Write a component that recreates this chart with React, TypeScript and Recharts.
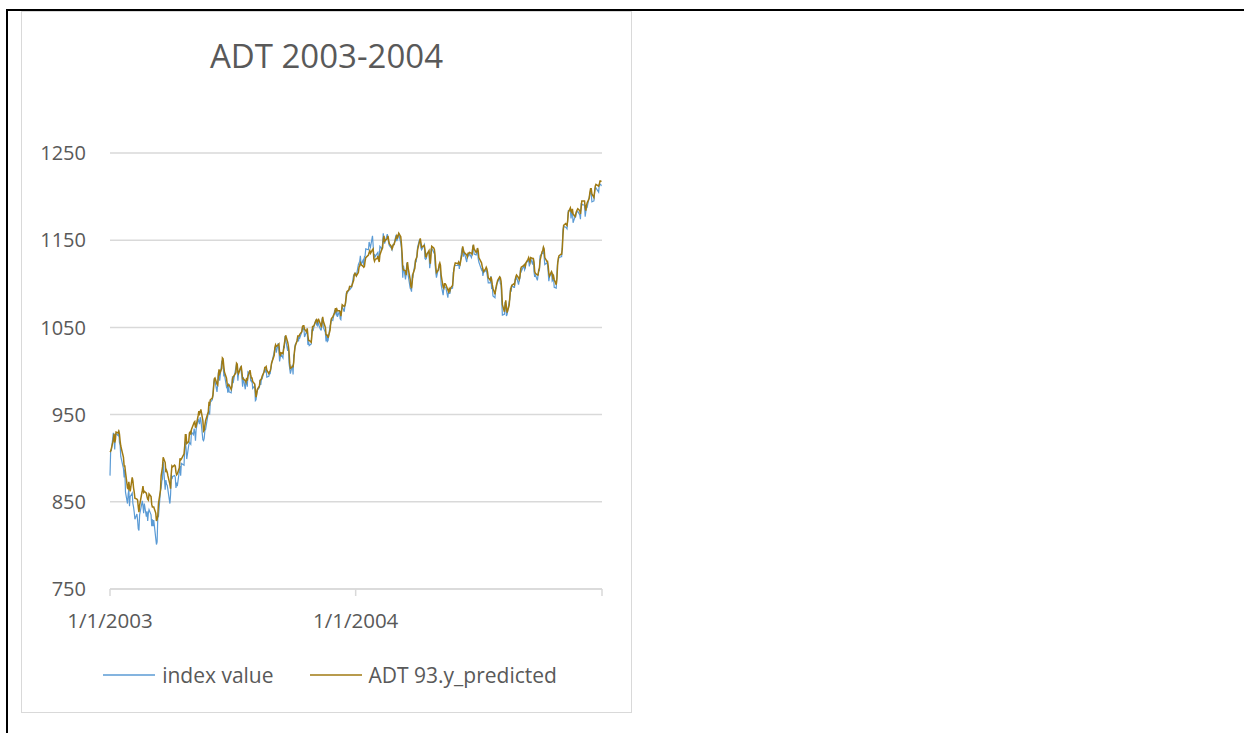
import React from 'react';
import { LineChart, Line, XAxis, YAxis, CartesianGrid, Legend } from 'recharts';

// trading days per month (Jan..Dec)
const tradingDays2003 = [
  [1, 2, 3, 6, 7, 8, 9, 10, 13, 14, 15, 16, 17, 21, 22, 23, 24, 27, 28, 29, 30, 31],
  [3, 4, 5, 6, 7, 10, 11, 12, 13, 14, 18, 19, 20, 21, 24, 25, 26, 27, 28],
  [3, 4, 5, 6, 7, 10, 11, 12, 13, 14, 17, 18, 19, 20, 21, 24, 25, 26, 27, 28, 31],
  [1, 2, 3, 4, 7, 8, 9, 10, 11, 14, 15, 16, 17, 21, 22, 23, 24, 25, 28, 29, 30],
  [1, 2, 5, 6, 7, 8, 9, 12, 13, 14, 15, 16, 19, 20, 21, 22, 23, 27, 28, 29, 30],
  [2, 3, 4, 5, 6, 9, 10, 11, 12, 13, 16, 17, 18, 19, 20, 23, 24, 25, 26, 27, 30],
  [1, 2, 3, 7, 8, 9, 10, 11, 14, 15, 16, 17, 18, 21, 22, 23, 24, 25, 28, 29, 30, 31],
  [1, 4, 5, 6, 7, 8, 11, 12, 13, 14, 15, 18, 19, 20, 21, 22, 25, 26, 27, 28, 29],
  [2, 3, 4, 5, 8, 9, 10, 11, 12, 15, 16, 17, 18, 19, 22, 23, 24, 25, 26, 29, 30],
  [1, 2, 3, 6, 7, 8, 9, 10, 13, 14, 15, 16, 17, 20, 21, 22, 23, 24, 27, 28, 29, 30, 31],
  [3, 4, 5, 6, 7, 10, 11, 12, 13, 14, 17, 18, 19, 20, 21, 24, 25, 26, 28],
  [1, 2, 3, 4, 5, 8, 9, 10, 11, 12, 15, 16, 17, 18, 19, 22, 23, 24, 26, 29, 30, 31],
];

const indexValue2003 = [
  [880, 909, 909, 929, 923, 910, 928, 928, 926, 932, 918, 915, 902, 888, 878, 887, 861, 848, 859, 864, 845, 856],
  [860, 848, 844, 838, 830, 836, 829, 819, 817, 835, 851, 845, 837, 848, 833, 839, 828, 837, 841],
  [835, 822, 830, 822, 829, 808, 801, 804, 832, 833, 863, 866, 874, 876, 896, 864, 875, 870, 869, 864, 848],
  [858, 881, 876, 879, 880, 878, 866, 872, 868, 885, 891, 880, 894, 892, 911, 919, 911, 899, 915, 918, 917],
  [916, 930, 927, 934, 930, 920, 933, 945, 942, 939, 947, 944, 921, 920, 923, 932, 933, 952, 953, 950, 964],
  [967, 972, 986, 990, 988, 976, 985, 998, 999, 989, 1011, 1012, 1010, 995, 996, 982, 984, 975, 986, 976, 975],
  [982, 994, 986, 1004, 1008, 1002, 989, 998, 1004, 999, 993, 982, 993, 979, 988, 989, 982, 999, 997, 989, 988, 990],
  [980, 983, 966, 967, 974, 978, 981, 990, 984, 991, 991, 1000, 1002, 1000, 1003, 993, 994, 997, 997, 1003, 1008],
  [1022, 1026, 1028, 1021, 1032, 1023, 1011, 1016, 1019, 1015, 1029, 1026, 1040, 1036, 1023, 1029, 1009, 1003, 997, 1007, 996],
  [1018, 1020, 1030, 1034, 1039, 1034, 1039, 1038, 1045, 1050, 1047, 1050, 1039, 1045, 1046, 1030, 1034, 1029, 1031, 1047, 1048, 1047, 1051],
  [1059, 1053, 1052, 1058, 1053, 1047, 1047, 1059, 1058, 1050, 1044, 1034, 1042, 1034, 1035, 1052, 1054, 1059, 1058],
  [1070, 1067, 1065, 1070, 1062, 1069, 1060, 1059, 1071, 1074, 1068, 1075, 1077, 1089, 1089, 1093, 1096, 1094, 1096, 1110, 1110, 1112],
];

const predicted2003 = [
  [907, 908, 911, 921, 928, 918, 921, 930, 929, 931, 928, 920, 914, 901, 891, 891, 884, 866, 865, 873, 866, 862],
  [878, 874, 866, 861, 854, 853, 852, 844, 838, 846, 863, 868, 861, 862, 860, 856, 853, 852, 859],
  [856, 847, 844, 844, 844, 837, 828, 830, 834, 848, 863, 880, 885, 890, 901, 895, 884, 886, 884, 880, 870],
  [865, 882, 891, 890, 892, 891, 884, 881, 882, 889, 900, 898, 899, 905, 914, 927, 927, 917, 919, 929, 930],
  [927, 933, 939, 941, 942, 935, 937, 949, 954, 951, 953, 956, 943, 931, 932, 938, 943, 953, 963, 962, 967],
  [969, 973, 982, 991, 992, 985, 984, 995, 1002, 997, 1003, 1015, 1014, 1006, 999, 992, 986, 983, 984, 984, 979],
  [982, 991, 993, 998, 1009, 1008, 999, 997, 1004, 1005, 999, 991, 991, 989, 987, 992, 989, 994, 1001, 996, 992, 992],
  [988, 985, 978, 970, 974, 979, 983, 989, 990, 991, 994, 999, 1004, 1004, 1005, 1001, 997, 999, 1000, 1003, 1009],
  [1018, 1027, 1030, 1028, 1030, 1031, 1020, 1017, 1021, 1020, 1025, 1031, 1036, 1041, 1033, 1029, 1022, 1009, 1003, 1005, 1005],
  [1010, 1022, 1028, 1035, 1040, 1040, 1040, 1042, 1045, 1051, 1052, 1052, 1048, 1045, 1049, 1041, 1035, 1035, 1033, 1042, 1051, 1051, 1052],
  [1058, 1059, 1056, 1058, 1059, 1053, 1050, 1056, 1062, 1057, 1050, 1042, 1041, 1041, 1038, 1047, 1056, 1060, 1062],
  [1067, 1072, 1069, 1071, 1069, 1069, 1068, 1063, 1068, 1076, 1074, 1075, 1079, 1085, 1091, 1093, 1097, 1097, 1097, 1104, 1111, 1112],
];

const tradingDays2004 = [
  [2, 5, 6, 7, 8, 9, 12, 13, 14, 15, 16, 20, 21, 22, 23, 26, 27, 28, 29, 30],
  [2, 3, 4, 5, 6, 9, 10, 11, 12, 13, 17, 18, 19, 20, 23, 24, 25, 26, 27],
  [1, 2, 3, 4, 5, 8, 9, 10, 11, 12, 15, 16, 17, 18, 19, 22, 23, 24, 25, 26, 29, 30, 31],
  [1, 2, 5, 6, 7, 8, 12, 13, 14, 15, 16, 19, 20, 21, 22, 23, 26, 27, 28, 29, 30],
  [3, 4, 5, 6, 7, 10, 11, 12, 13, 14, 17, 18, 19, 20, 21, 24, 25, 26, 27, 28],
  [1, 2, 3, 4, 7, 8, 9, 10, 14, 15, 16, 17, 18, 21, 22, 23, 24, 25, 28, 29, 30],
  [1, 2, 6, 7, 8, 9, 12, 13, 14, 15, 16, 19, 20, 21, 22, 23, 26, 27, 28, 29, 30],
  [2, 3, 4, 5, 6, 9, 10, 11, 12, 13, 16, 17, 18, 19, 20, 23, 24, 25, 26, 27, 30, 31],
  [1, 2, 3, 7, 8, 9, 10, 13, 14, 15, 16, 17, 20, 21, 22, 23, 24, 27, 28, 29, 30],
  [1, 4, 5, 6, 7, 8, 11, 12, 13, 14, 15, 18, 19, 20, 21, 22, 25, 26, 27, 28, 29],
  [1, 2, 3, 4, 5, 8, 9, 10, 11, 12, 15, 16, 17, 18, 19, 22, 23, 24, 26, 29, 30],
  [1, 2, 3, 6, 7, 8, 9, 10, 13, 14, 15, 16, 17, 20, 21, 22, 23, 27, 28, 29, 30, 31],
];

const indexValue2004 = [
  [1109, 1122, 1124, 1126, 1132, 1122, 1127, 1121, 1131, 1132, 1140, 1139, 1148, 1144, 1142, 1155, 1144, 1129, 1134, 1131],
  [1135, 1136, 1127, 1129, 1143, 1140, 1146, 1158, 1152, 1146, 1157, 1152, 1147, 1144, 1141, 1139, 1144, 1145, 1145],
  [1156, 1149, 1151, 1155, 1157, 1147, 1141, 1124, 1107, 1121, 1105, 1111, 1124, 1122, 1110, 1095, 1094, 1091, 1109, 1108, 1123, 1127, 1126],
  [1132, 1142, 1151, 1148, 1141, 1139, 1145, 1129, 1128, 1129, 1135, 1136, 1118, 1124, 1140, 1141, 1136, 1138, 1122, 1114, 1107],
  [1118, 1120, 1122, 1114, 1099, 1087, 1096, 1097, 1096, 1096, 1084, 1092, 1089, 1089, 1094, 1095, 1113, 1115, 1121, 1121],
  [1121, 1125, 1117, 1123, 1140, 1142, 1131, 1137, 1125, 1132, 1134, 1132, 1135, 1130, 1134, 1144, 1141, 1134, 1133, 1136, 1141],
  [1129, 1125, 1116, 1118, 1109, 1113, 1115, 1116, 1112, 1107, 1101, 1101, 1109, 1094, 1097, 1086, 1084, 1095, 1095, 1100, 1102],
  [1107, 1100, 1099, 1081, 1064, 1065, 1079, 1076, 1063, 1065, 1079, 1082, 1095, 1091, 1098, 1096, 1096, 1105, 1105, 1108, 1099, 1104],
  [1106, 1118, 1114, 1121, 1116, 1118, 1124, 1126, 1128, 1120, 1124, 1129, 1122, 1129, 1114, 1108, 1110, 1104, 1110, 1115, 1115],
  [1132, 1135, 1135, 1142, 1131, 1122, 1124, 1122, 1114, 1103, 1108, 1114, 1103, 1104, 1107, 1096, 1095, 1111, 1125, 1127, 1130],
  [1131, 1131, 1143, 1162, 1166, 1165, 1164, 1163, 1174, 1184, 1184, 1175, 1182, 1184, 1170, 1177, 1177, 1182, 1183, 1179, 1174],
  [1191, 1190, 1191, 1190, 1177, 1183, 1189, 1188, 1199, 1203, 1206, 1203, 1194, 1195, 1206, 1210, 1210, 1205, 1214, 1214, 1214, 1212],
];

const predicted2004 = [
  [1109, 1113, 1119, 1121, 1124, 1122, 1120, 1119, 1120, 1126, 1130, 1133, 1136, 1138, 1135, 1139, 1140, 1129, 1126, 1128],
  [1129, 1132, 1128, 1125, 1133, 1140, 1141, 1151, 1155, 1149, 1152, 1155, 1150, 1146, 1143, 1140, 1142, 1145, 1145],
  [1153, 1155, 1152, 1155, 1158, 1154, 1146, 1135, 1118, 1116, 1115, 1110, 1120, 1125, 1118, 1105, 1097, 1095, 1102, 1111, 1118, 1127, 1129],
  [1131, 1139, 1149, 1152, 1147, 1142, 1144, 1139, 1131, 1131, 1134, 1138, 1129, 1123, 1134, 1143, 1141, 1139, 1132, 1120, 1113],
  [1116, 1122, 1124, 1121, 1110, 1096, 1095, 1100, 1100, 1099, 1093, 1091, 1094, 1092, 1095, 1098, 1107, 1117, 1121, 1124],
  [1123, 1125, 1123, 1122, 1134, 1143, 1139, 1136, 1133, 1131, 1135, 1135, 1136, 1135, 1134, 1141, 1145, 1140, 1136, 1137, 1141],
  [1138, 1130, 1124, 1120, 1117, 1114, 1117, 1119, 1117, 1113, 1107, 1104, 1108, 1105, 1099, 1095, 1088, 1093, 1098, 1101, 1104],
  [1108, 1107, 1103, 1093, 1076, 1068, 1075, 1081, 1073, 1067, 1075, 1084, 1092, 1096, 1098, 1100, 1099, 1104, 1108, 1110, 1107, 1105],
  [1108, 1115, 1119, 1121, 1122, 1120, 1124, 1128, 1130, 1127, 1125, 1130, 1129, 1129, 1125, 1114, 1112, 1110, 1110, 1116, 1118],
  [1127, 1137, 1138, 1142, 1140, 1130, 1126, 1126, 1121, 1112, 1109, 1114, 1112, 1107, 1109, 1105, 1099, 1106, 1121, 1129, 1132],
  [1134, 1134, 1140, 1156, 1167, 1169, 1168, 1167, 1172, 1182, 1187, 1183, 1182, 1186, 1180, 1177, 1180, 1183, 1186, 1184, 1180],
  [1187, 1195, 1195, 1195, 1188, 1184, 1190, 1193, 1198, 1205, 1209, 1209, 1203, 1199, 1205, 1212, 1214, 1212, 1214, 1218, 1218, 1217],
];

const xTicks = [Date.UTC(2003, 0, 1), Date.UTC(2004, 0, 1), Date.UTC(2005, 0, 1)];
const xTickLabels = ['1/1/2003', '1/1/2004', ''];
const yTicks = [750, 850, 950, 1050, 1150, 1250];

const seriesNames = { index: 'index value', predicted: 'ADT 93.y_predicted' };
const seriesColors = { index: '#5B9BD5', predicted: '#A07A12' };

const buildRows = (year: number, days: number[][], idx: number[][], pred: number[][]) =>
  days.flatMap((monthDays, m) =>
    monthDays.map((d, i) => ({ t: Date.UTC(year, m, d), index: idx[m][i], predicted: pred[m][i] }))
  );

const data = [
  ...buildRows(2003, tradingDays2003, indexValue2003, predicted2003),
  ...buildRows(2004, tradingDays2004, indexValue2004, predicted2004),
];

const textColor = '#595959';
const gridColor = '#D9D9D9';

// legend box is only as wide as the plot, so nudge it to center on the whole chart area
const LegendContent = () => (
  <div style={{ display: 'flex', justifyContent: 'center', alignItems: 'center', height: 30, paddingLeft: 36, fontSize: 21, color: textColor }}>
    {(['index', 'predicted'] as const).map((key, i) => (
      <div key={key} style={{ display: 'flex', alignItems: 'center', marginLeft: i === 0 ? 0 : 36 }}>
        <svg width={52} height={4} style={{ marginRight: 7 }}>
          <line x1={0} y1={2} x2={52} y2={2} stroke={seriesColors[key]} strokeWidth={1.5} />
        </svg>
        <span>{seriesNames[key]}</span>
      </div>
    ))}
  </div>
);

const App: React.FC = () => {
  return (
    <div style={{ position: 'absolute', left: 0, top: 0, width: 1244, height: 733, fontFamily: "'Open Sans', sans-serif", background: '#fff' }}>
      {/* table cell border */}
      <div style={{ position: 'absolute', left: 6, top: 9, width: 1238, height: 724, boxSizing: 'border-box', borderTop: '2px solid #000', borderLeft: '2px solid #000' }} />
      {/* chart area */}
      <div style={{ position: 'absolute', left: 21, top: 11, width: 611, height: 702, boxSizing: 'border-box', border: `1px solid ${gridColor}`, background: '#fff' }}>
        <div style={{ position: 'absolute', left: 0, top: 27, width: 609, textAlign: 'center', fontSize: 33, lineHeight: '33px', color: textColor }}>
          ADT 2003-2004
        </div>
        <LineChart width={609} height={700} data={data} margin={{ top: 141, right: 29, bottom: 22, left: 0 }}>
          <CartesianGrid vertical={false} stroke={gridColor} strokeWidth={1.5} />
          <XAxis
            dataKey="t"
            type="number"
            domain={[xTicks[0], xTicks[2]]}
            ticks={xTicks}
            tickFormatter={(v) => xTickLabels[xTicks.indexOf(v)] ?? ''}
            height={71}
            stroke={gridColor}
            strokeWidth={1.5}
            tickSize={7}
            tickMargin={17}
            tick={{ fontSize: 20.5, fill: textColor }}
            interval={0}
          />
          <YAxis
            domain={[750, 1250]}
            ticks={yTicks}
            width={88}
            axisLine={false}
            tickLine={false}
            tickMargin={18}
            tick={{ fontSize: 20, fill: textColor }}
            interval={0}
          />
          <Line type="linear" dataKey="index" name={seriesNames.index} stroke={seriesColors.index} strokeWidth={1.2} dot={false} isAnimationActive={false} />
          <Line type="linear" dataKey="predicted" name={seriesNames.predicted} stroke={seriesColors.predicted} strokeWidth={1.5} dot={false} isAnimationActive={false} />
          <Legend verticalAlign="bottom" height={30} content={<LegendContent />} />
        </LineChart>
      </div>
    </div>
  );
};

export default App;
